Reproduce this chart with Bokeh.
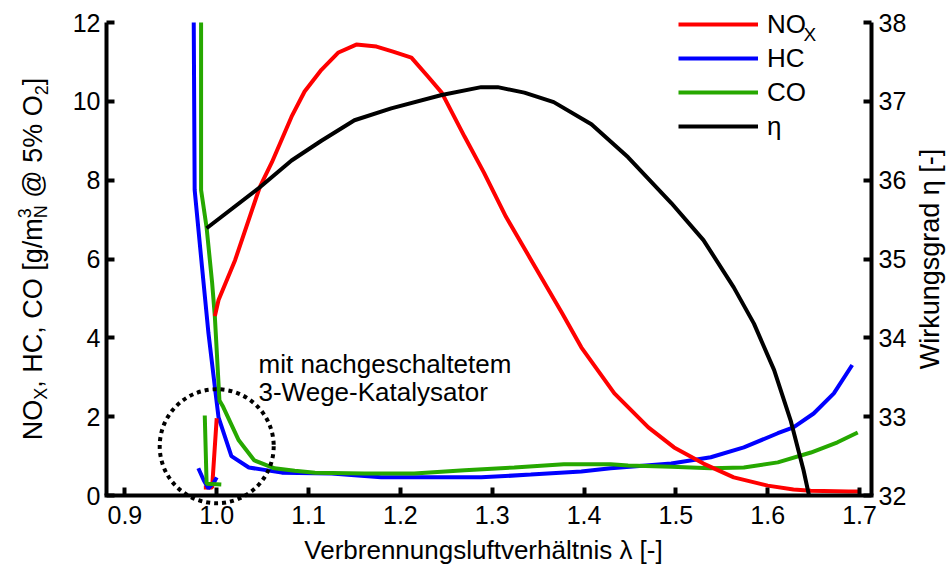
import math
from bokeh.plotting import figure
from bokeh.models import (Range1d, LinearAxis, FixedTicker, PrintfTickFormatter,
                          Label, Legend, LegendItem)
from bokeh.embed import file_html
from bokeh.resources import INLINE

FONT = "Liberation Sans"

# ---------------- data ----------------
x_ticks = [0.9, 1.0, 1.1, 1.2, 1.3, 1.4, 1.5, 1.6, 1.7]
left_ticks = [0, 2, 4, 6, 8, 10, 12]
right_ticks = [32, 33, 34, 35, 36, 37, 38]

nox_lambda = [0.998, 1.002, 1.020, 1.047, 1.060, 1.0815, 1.0957, 1.114, 1.1326, 1.152,
              1.174, 1.192, 1.212, 1.230, 1.245, 1.270, 1.291, 1.315, 1.342, 1.376,
              1.397, 1.433, 1.470, 1.498, 1.530, 1.563, 1.600, 1.628, 1.647, 1.688, 1.700]
nox_value = [4.55, 4.96, 5.97, 7.83, 8.45, 9.61, 10.25, 10.80, 11.24, 11.44,
             11.39, 11.26, 11.11, 10.63, 10.22, 9.10, 8.19, 7.07, 5.99, 4.63,
             3.76, 2.59, 1.73, 1.22, 0.81, 0.46, 0.25, 0.15, 0.12, 0.10, 0.10]

hc_lambda = [0.975, 0.976, 0.984, 0.991, 0.998, 1.002, 1.016, 1.035, 1.071, 1.125,
             1.179, 1.234, 1.288, 1.342, 1.397, 1.429, 1.495, 1.538, 1.574, 1.611,
             1.628, 1.650, 1.672, 1.692]
hc_value = [12.0, 7.75, 5.80, 4.12, 2.75, 1.98, 1.00, 0.71, 0.58, 0.56,
            0.46, 0.46, 0.46, 0.53, 0.61, 0.69, 0.81, 0.97, 1.22, 1.58,
            1.73, 2.08, 2.59, 3.31]

co_lambda = [0.983, 0.983, 0.989, 0.995, 0.998, 1.003, 1.007, 1.024, 1.041, 1.063,
             1.085, 1.107, 1.161, 1.215, 1.270, 1.324, 1.378, 1.429, 1.448, 1.495,
             1.538, 1.574, 1.611, 1.647, 1.676, 1.698]
co_value = [12.0, 7.75, 6.80, 5.40, 4.53, 2.41, 2.25, 1.40, 0.89, 0.69,
            0.63, 0.58, 0.56, 0.56, 0.64, 0.71, 0.79, 0.79, 0.76, 0.73,
            0.69, 0.71, 0.84, 1.09, 1.35, 1.60]

eta_lambda = [0.989, 1.047, 1.0815, 1.114, 1.150, 1.190, 1.245, 1.288, 1.306, 1.335,
              1.367, 1.408, 1.448, 1.495, 1.530, 1.563, 1.585, 1.607, 1.625, 1.639, 1.645]
eta_value = [35.39, 35.91, 36.25, 36.50, 36.76, 36.91, 37.08, 37.18, 37.18, 37.11,
             36.99, 36.71, 36.29, 35.71, 35.24, 34.64, 34.18, 33.59, 32.95, 32.32, 32.00]

# with three-way catalyst (inside the circle)
nox_cat_lambda = [0.986, 0.995, 1.000]
nox_cat_value = [0.20, 0.20, 1.96]
hc_cat_lambda = [0.980, 0.986, 0.991, 0.997, 1.000]
hc_cat_value = [0.69, 0.38, 0.18, 0.33, 0.46]
co_cat_lambda = [0.987, 0.989, 1.005]
co_cat_value = [2.03, 0.30, 0.28]

circle_center_lambda = [1.0]
circle_center_value = [1.25]

# ---------------- layout ----------------
X0, X1 = 0.88, 1.713          # axis extent (lambda)
Y0, Y1 = 0.0, 12.0            # left axis extent
E0, E1 = 32.0, 38.0           # right axis extent
FL, FR, FT, FB = 106, 871, 22, 495   # axis box edges in pixels
W, H = 948, 566

kx = (X1 - X0) / (FR - FL)
ky = (Y1 - Y0) / (FB - FT)
ke = (E1 - E0) / (FB - FT)
xs, xe = X0 - FL * kx, X1 + (W - FR) * kx
ys, ye = Y0 - (H - FB) * ky, Y1 + FT * ky
es, ee = E0 - (H - FB) * ke, E1 + FT * ke


def dx(px):
    return xs + px * kx


def dy(py):
    return ye - py * ky


p = figure(width=W, height=H, x_range=Range1d(xs, xe), y_range=Range1d(ys, ye),
           output_backend="svg", toolbar_location=None,
           x_axis_location=None, y_axis_location=None,
           min_border_left=0, min_border_right=0, min_border_top=0, min_border_bottom=0)
p.extra_y_ranges = {"eta": Range1d(es, ee)}
p.outline_line_color = None
p.background_fill_color = "white"
p.border_fill_color = "white"
p.grid.visible = False


def style(ax):
    ax.axis_line_width = 4
    ax.axis_line_color = "black"
    ax.major_tick_line_width = 4
    ax.major_tick_line_color = "black"
    ax.major_tick_in = 8
    ax.major_tick_out = 0
    ax.minor_tick_line_color = None
    ax.major_label_text_font = FONT
    ax.major_label_text_font_size = "25px"
    ax.major_label_text_color = "black"


xa = LinearAxis(fixed_location=Y0, bounds=(X0 - 2 * kx, X1 + 2 * kx),
                ticker=FixedTicker(ticks=x_ticks), formatter=PrintfTickFormatter(format="%.1f"))
style(xa)
xa.major_label_standoff = 10
p.add_layout(xa, "below")

ya = LinearAxis(fixed_location=X0, bounds=(Y0, Y1), ticker=FixedTicker(ticks=left_ticks))
style(ya)
ya.major_label_standoff = 6
p.add_layout(ya, "left")

ra = LinearAxis(y_range_name="eta", fixed_location=X1, bounds=(E0, E1),
                ticker=FixedTicker(ticks=right_ticks))
style(ra)
ra.major_label_standoff = 7
p.add_layout(ra, "right")

LW = 4
RED, BLUE, GREEN = "#ff0000", "#0000ff", "#26a800"

r_hc = p.line(hc_lambda, hc_value, line_color=BLUE, line_width=LW)
r_co = p.line(co_lambda, co_value, line_color=GREEN, line_width=LW)
r_nox = p.line(nox_lambda, nox_value, line_color=RED, line_width=LW)
r_eta = p.line(eta_lambda, eta_value, line_color="black", line_width=LW, y_range_name="eta")

p.line(nox_cat_lambda, nox_cat_value, line_color=RED, line_width=LW)
p.line(hc_cat_lambda, hc_cat_value, line_color=BLUE, line_width=LW)
p.line(co_cat_lambda, co_cat_value, line_color=GREEN, line_width=LW)

p.circle(x=circle_center_lambda, y=circle_center_value, radius=57, radius_units="screen",
         fill_color=None, line_color="black", line_width=4, line_dash="4 4")

legend = Legend(items=[LegendItem(label="NO", renderers=[r_nox]),
                       LegendItem(label="HC", renderers=[r_hc]),
                       LegendItem(label="CO", renderers=[r_co]),
                       LegendItem(label="η", renderers=[r_eta])],
                location=(678, H - (126 + 17)),
                glyph_width=80, glyph_height=34, label_height=34, label_standoff=9,
                spacing=0, padding=0, margin=0,
                border_line_color=None, background_fill_alpha=0,
                label_text_font=FONT, label_text_font_size="26px", label_text_color="black")
p.add_layout(legend)

SHIFT = 0.34  # measured offset of the rendered baseline, in em


def lab(px, py, text, size, rotated=False, **kw):
    """Place text so that its baseline lies at the given pixel position."""
    opts = dict(text_font=FONT, text_font_size=f"{size}px", text_color="black",
                text_baseline="alphabetic", text_align="left")
    opts.update(kw)
    if rotated:
        px -= SHIFT * size
        opts["angle"] = math.pi / 2
    else:
        py -= SHIFT * size
    p.add_layout(Label(x=dx(px), y=dy(py), text=text, **opts))


lab(803, 40, "X", 19)
lab(258, 372, "mit nachgeschaltetem", 26)
lab(258, 400, "3-Wege-Katalysator", 26)
lab(483, 558, "Verbrennungsluftverhältnis λ [-]", 26, text_align="center")

AW = {'N': .722, 'O': .778, 'X': .667, ',': .278, ' ': .278, 'H': .722, 'C': .722,
      '[': .278, 'g': .556, '/': .278, 'm': .833, '3': .556, '@': 1.015, '5': .556,
      '%': .889, '2': .556, ']': .278}


def tw(s, fs):
    return sum(AW.get(c, .556) for c in s) * fs


F, S = 27, 18
pieces = [("NO", "m"), ("X", "sub"), (", HC, CO [g/m", "m"), ("3", "sup0"), ("N", "sub"),
          (" ", "gap"), ("@ 5% O", "m"), ("2", "sub"), ("]", "m")]
total = sum(tw(t, S) if k == "sub" else tw(t, F) for t, k in pieces if k != "sup0")
center_y = (FT + FB) / 2
pos = center_y + total / 2
base_x = 42
for t, k in pieces:
    if k == "gap":
        pos -= tw(t, F)
        continue
    if k == "m":
        bx, fs = base_x, F
    elif k == "sub":
        bx, fs = base_x + 5, S
    else:
        bx, fs = base_x - 12, S
    lab(bx, pos, t, fs, rotated=True)
    if k != "sup0":
        pos -= tw(t, fs)

lab(939, center_y, "Wirkungsgrad η [-]", 27, rotated=True, text_align="center")

open("out.html", "w").write(file_html(p, INLINE))
